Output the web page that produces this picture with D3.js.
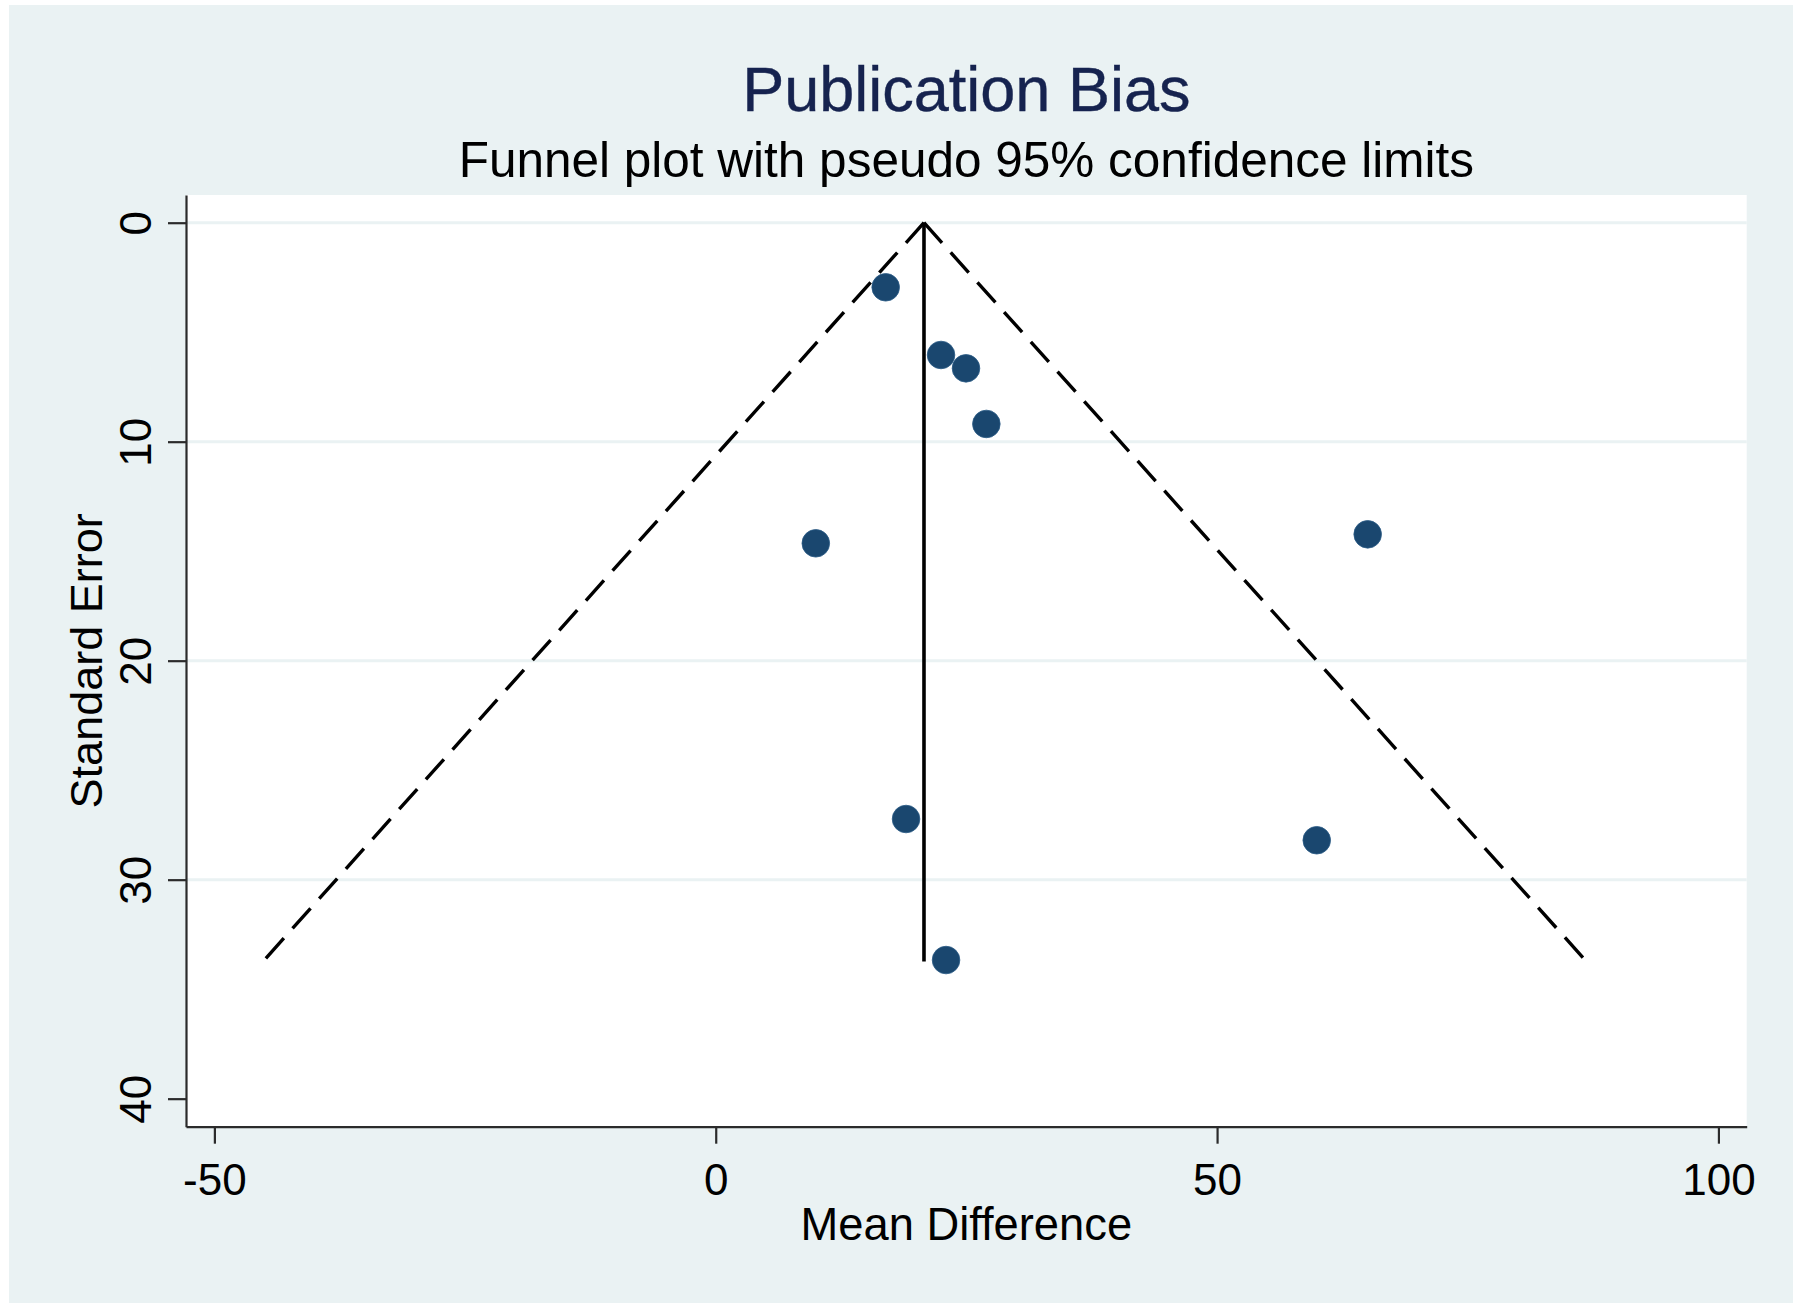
<!DOCTYPE html>
<html>
<head>
<meta charset="utf-8">
<script src="https://cdn.jsdelivr.net/npm/d3@7"></script>
<style>
  html, body { margin: 0; padding: 0; background: #ffffff; }
  svg { display: block; font-family: "Liberation Sans", Arial, Helvetica, sans-serif; }
</style>
</head>
<body>
<script>
// ---- data ----
const meanDiff = [16.95, 22.47, 24.96, 26.99, 9.98, 65.02, 18.98, 59.94, 22.97];
const stdErr   = [2.95, 6.04, 6.65, 9.19, 14.64, 14.23, 27.23, 28.2, 33.67];
const pooledEffect = 20.77;
const funnelSE    = [0, 33.74];
const funnelLower = [20.77, -45.16];
const funnelUpper = [20.77, 86.85];
const xTicks = [-50, 0, 50, 100];
const yTicks = [0, 10, 20, 30, 40];
const yGridTicks = [0, 10, 20, 30];
const titleText = "Publication Bias";
const subtitleText = "Funnel plot with pseudo 95% confidence limits";
const xTitle = "Mean Difference";
const yTitle = "Standard Error";

// ---- layout ----
const W = 1800, H = 1313;
const plot = { left: 186, right: 1746.7, top: 195, bottom: 1126.7 };

const svg = d3.select("body").append("svg").attr("width", W).attr("height", H);

// outer panel
svg.append("rect").attr("x", 9).attr("y", 5).attr("width", 1784).attr("height", 1298)
  .attr("fill", "#eaf2f3");
// plot region
svg.append("rect").attr("x", plot.left).attr("y", plot.top)
  .attr("width", plot.right - plot.left).attr("height", plot.bottom - plot.top)
  .attr("fill", "#ffffff");

const x = d3.scaleLinear().domain([-52.83, 102.82]).range([plot.left, plot.right]);
const y = d3.scaleLinear().domain([-1.265, 41.28]).range([plot.top, plot.bottom]);

// gridlines
svg.append("g").selectAll("line").data(yGridTicks).join("line")
  .attr("x1", plot.left).attr("x2", plot.right)
  .attr("y1", d => y(d)).attr("y2", d => y(d))
  .attr("stroke", "#eaf2f3").attr("stroke-width", 3);

// funnel dashed lines
const funnelLine = d3.line().x(d => x(d[0])).y(d => y(d[1]));
[funnelLower, funnelUpper].forEach(bound => {
  svg.append("path").datum(funnelSE.map((s, i) => [bound[i], s]))
    .attr("d", funnelLine).attr("fill", "none").attr("stroke", "#000")
    .attr("stroke-width", 3.4).attr("stroke-dasharray", "27,13");
});

// pooled effect vertical line
svg.append("line")
  .attr("x1", x(pooledEffect)).attr("x2", x(pooledEffect))
  .attr("y1", y(funnelSE[0])).attr("y2", y(funnelSE[1]))
  .attr("stroke", "#000").attr("stroke-width", 3.6);

// points
svg.append("g").selectAll("circle").data(meanDiff.map((m, i) => [m, stdErr[i]])).join("circle")
  .attr("cx", d => x(d[0])).attr("cy", d => y(d[1])).attr("r", 13.8)
  .attr("fill", "#1a476f").attr("stroke", "#2a5a85").attr("stroke-width", 0.8);

// axes
const axisColor = "#2b2b2b";
const fmt = d => String(d);
const gx = svg.append("g").attr("transform", `translate(0,${plot.bottom})`)
  .call(d3.axisBottom(x).tickValues(xTicks).tickSize(17).tickSizeOuter(0).tickFormat(fmt));
gx.select(".domain").attr("stroke", axisColor).attr("stroke-width", 2.2);
gx.selectAll(".tick line").attr("stroke", axisColor).attr("stroke-width", 2.2);
gx.selectAll(".tick text").attr("y", 68).attr("dy", 0)
  .attr("font-size", 44).attr("fill", "#000").attr("font-family", "Liberation Sans, Arial, sans-serif");

const gy = svg.append("g").attr("transform", `translate(${plot.left},0)`)
  .call(d3.axisLeft(y).tickValues(yTicks).tickSize(18).tickSizeOuter(0).tickFormat(fmt));
gy.select(".domain").attr("stroke", axisColor).attr("stroke-width", 2.2);
gy.selectAll(".tick line").attr("stroke", axisColor).attr("stroke-width", 2.2);
gy.selectAll(".tick text").attr("x", 0).attr("dy", 0).attr("text-anchor", "middle")
  .attr("transform", "translate(-35,0) rotate(-90)")
  .attr("font-size", 44).attr("fill", "#000").attr("font-family", "Liberation Sans, Arial, sans-serif");

// titles
const cx = (plot.left + plot.right) / 2;
svg.append("text").attr("x", cx).attr("y", 111).attr("text-anchor", "middle")
  .attr("font-size", 63).attr("fill", "#16234f").attr("stroke", "#16234f").attr("stroke-width", 0.4)
  .text(titleText);
svg.append("text").attr("x", cx).attr("y", 177).attr("text-anchor", "middle")
  .attr("font-size", 49.5).attr("fill", "#000").text(subtitleText);
svg.append("text").attr("x", cx).attr("y", 1240).attr("text-anchor", "middle")
  .attr("font-size", 45.3).attr("fill", "#000").text(xTitle);
svg.append("text").attr("transform", `translate(102,${(plot.top + plot.bottom) / 2}) rotate(-90)`)
  .attr("text-anchor", "middle").attr("font-size", 45).attr("fill", "#000").text(yTitle);
</script>
</body>
</html>
